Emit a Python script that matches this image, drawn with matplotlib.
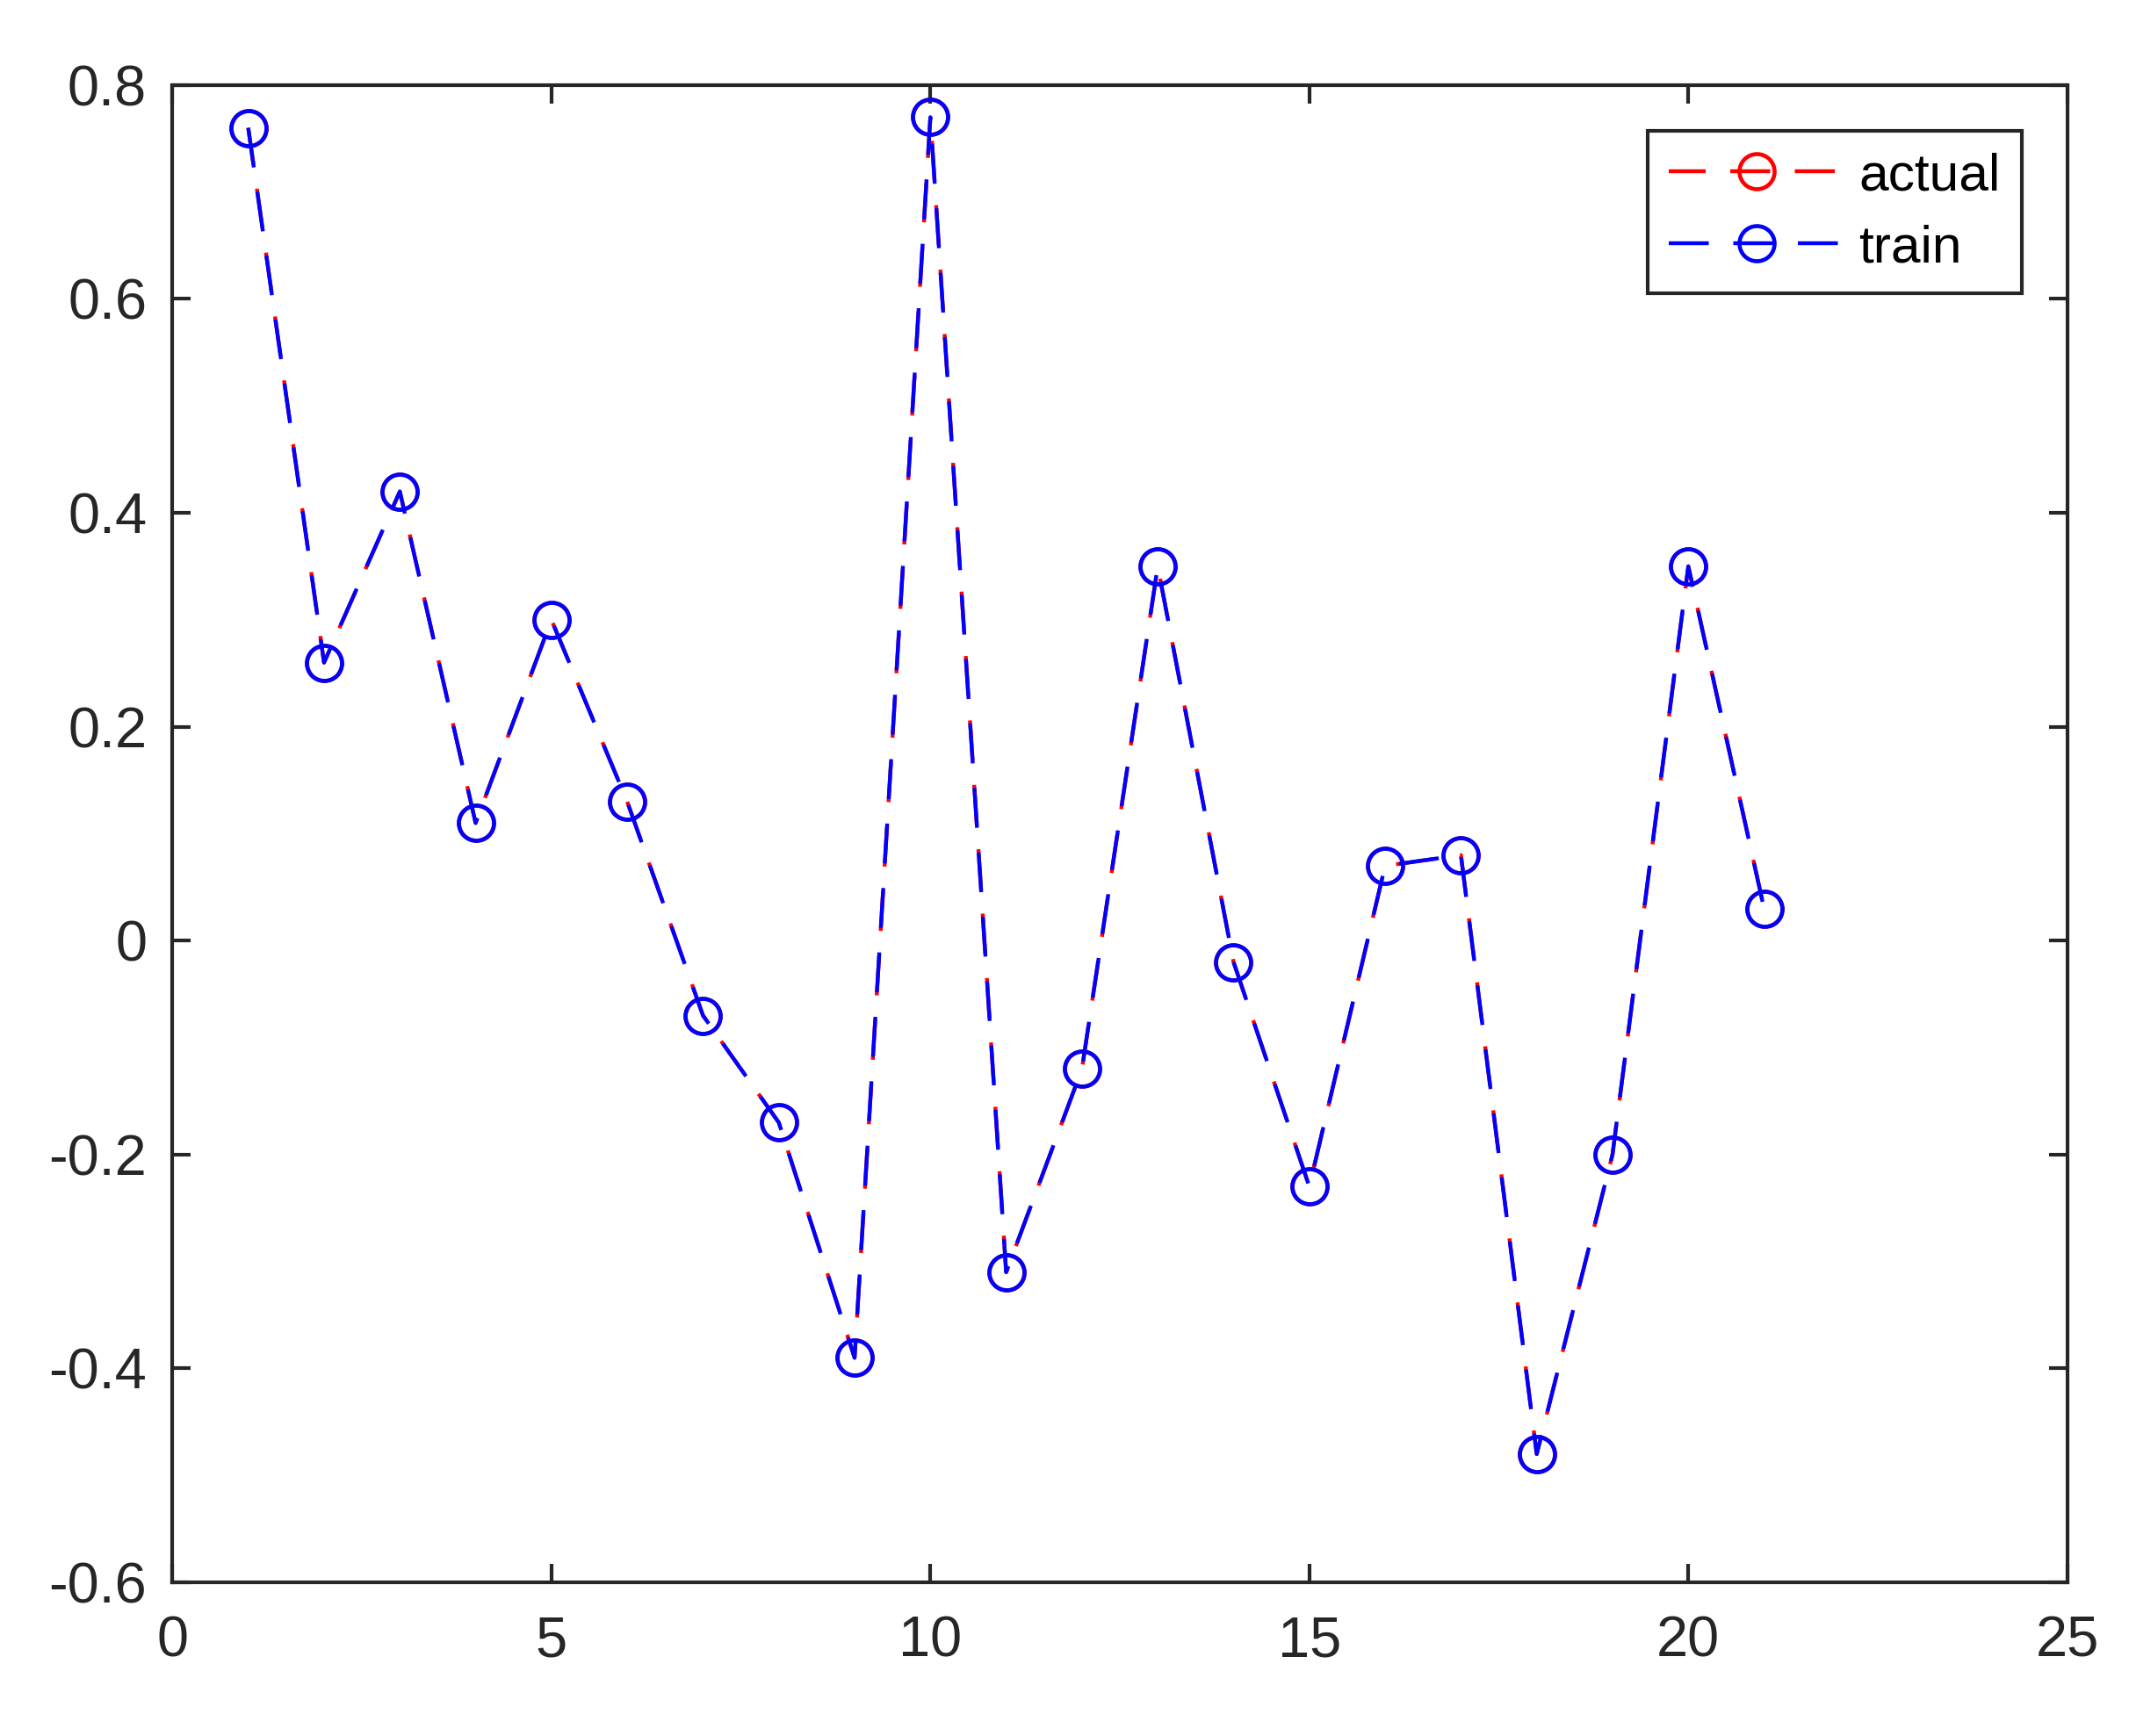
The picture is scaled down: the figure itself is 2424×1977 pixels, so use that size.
import matplotlib.pyplot as plt

plt.rcParams['font.family'] = ['Liberation Sans', 'DejaVu Sans']

idx = list(range(1, 22))
actual = [0.76, 0.26, 0.42, 0.11, 0.30, 0.13, -0.07, -0.17, -0.39, 0.77, -0.31,
          -0.12, 0.35, -0.02, -0.23, 0.07, 0.08, -0.48, -0.20, 0.35, 0.03]
train = [0.76, 0.26, 0.42, 0.11, 0.30, 0.13, -0.07, -0.17, -0.39, 0.77, -0.31,
         -0.12, 0.35, -0.02, -0.23, 0.07, 0.08, -0.48, -0.20, 0.35, 0.03]

dark = '#262626'
fig = plt.figure(figsize=(8.08, 6.59), dpi=300)
ax = fig.add_axes([0.081, 0.0885, 0.89, 0.8625])

lw = 1.05
ax.plot(idx, actual, color='red', lw=lw, linestyle=(0.8, (10.4, 6.4)),
        marker='o', markersize=9.6, markerfacecolor='none', markeredgewidth=1.1,
        label='actual')
ax.plot(idx, train, color='blue', lw=lw, linestyle=(0, (10.4, 6.4)),
        marker='o', markersize=9.6, markerfacecolor='none', markeredgewidth=1.1,
        label='train')

ax.set_xlim(0, 25)
ax.set_ylim(-0.6, 0.8)
ax.set_xticks([0, 5, 10, 15, 20, 25])
ax.set_yticks([-0.6, -0.4, -0.2, 0, 0.2, 0.4, 0.6, 0.8])
ax.set_yticklabels(['-0.6', '-0.4', '-0.2', '0', '0.2', '0.4', '0.6', '0.8'])

for s in ax.spines.values():
    s.set_color(dark)
    s.set_linewidth(1.0)
ax.tick_params(direction='in', length=5, width=1.0, color=dark,
               labelcolor=dark, labelsize=15.6, top=True, right=True)
ax.tick_params(axis='x', pad=9)
ax.tick_params(axis='y', pad=7)

leg = ax.legend(loc='upper right', bbox_to_anchor=(0.976, 0.9695), fontsize=14.5,
                handlelength=3.3, fancybox=False, framealpha=1,
                edgecolor=dark, borderpad=0.4, labelspacing=0.45,
                handletextpad=0.28, borderaxespad=0)
leg.get_frame().set_linewidth(1.0)

fig.savefig('out.png', dpi=300)
